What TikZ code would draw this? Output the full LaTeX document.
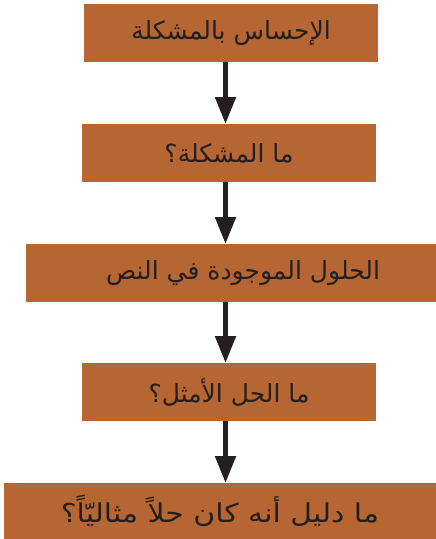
\documentclass[tikz,border=0pt]{standalone}
\usepackage{fontspec}
\usetikzlibrary{arrows.meta}
\TeXXeTstate=1
\newfontfamily\arabicfont[Script=Arabic]{DejaVu Sans}
\definecolor{boxfill}{HTML}{B66632}
\definecolor{ink}{HTML}{231F20}
\begin{document}
\begin{tikzpicture}[x=1pt,y=-1pt,
  stepbox/.style={fill=boxfill, draw=none, inner sep=0pt, font=\arabicfont\fontsize{25}{30}\selectfont, text=ink},
  flow/.style={draw=ink, line width=5pt, -{Triangle[length=27pt,width=20pt]}}]
\useasboundingbox (0,0) rectangle (436,539);
\node[stepbox, minimum width=294pt, minimum height=58pt] (b1) at (231,33) {\beginR الإحساس بالمشكلة\endR};
\node[stepbox, minimum width=294pt, minimum height=58pt] (b2) at (229,153) {\beginR ما المشكلة؟\endR};
\node[stepbox, minimum width=410pt, minimum height=58pt] (b3) at (231,273) {\hspace*{24pt}\beginR الحلول الموجودة في النص\endR};
\node[stepbox, minimum width=294pt, minimum height=58pt] (b4) at (229,392) {\beginR ما الحل الأمثل؟\endR};
\node[stepbox, minimum width=432pt, minimum height=56pt, font=\arabicfont\fontsize{26}{30}\selectfont] (b5) at (220,511) {\scalebox{1.15}[1]{\beginR ما دليل أنه كان حلاً مثاليّاً؟\endR}};
\draw[flow] (225.5,62) -- (225.5,124);
\draw[flow] (225.5,182) -- (225.5,244);
\draw[flow] (225.5,302) -- (225.5,363);
\draw[flow] (225.5,421) -- (225.5,483);
\end{tikzpicture}
\end{document}
